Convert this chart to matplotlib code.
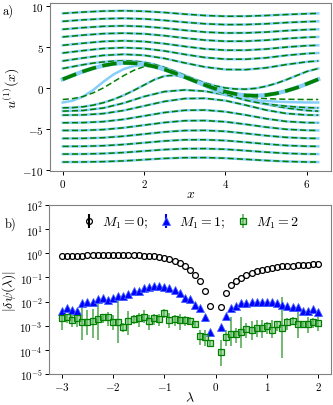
import numpy as np
import matplotlib
matplotlib.use("Agg")
import matplotlib.pyplot as plt
from matplotlib.ticker import FuncFormatter, LogLocator, NullLocator

plt.rcParams.update({
    "font.family": "serif",
    "font.serif": ["cmr10"],
    "mathtext.fontset": "cm",
    "axes.formatter.use_mathtext": True,
    "font.size": 8,
    "axes.unicode_minus": False,
})

# ---- panel a): u^(1)(x) curves -------------------------------------------
X = [0.0, 0.5, 1.0, 1.5, 2.0, 2.5, 3.0, 3.5, 4.0, 4.5, 5.0, 5.5, 6.0, 6.283]

upper_curves = [
    [9.04, 9.20, 9.32, 9.36, 9.30, 9.15, 8.95, 8.78, 8.69, 8.70, 8.78, 8.90, 9.00, 9.04],
    [8.07, 8.25, 8.39, 8.44, 8.37, 8.19, 7.96, 7.77, 7.67, 7.68, 7.77, 7.92, 8.03, 8.07],
    [7.10, 7.30, 7.46, 7.52, 7.44, 7.24, 6.98, 6.76, 6.65, 6.66, 6.76, 6.93, 7.06, 7.10],
    [6.17, 6.39, 6.57, 6.63, 6.55, 6.32, 6.03, 5.78, 5.64, 5.65, 5.77, 5.97, 6.12, 6.17],
    [5.15, 5.40, 5.62, 5.70, 5.61, 5.35, 5.01, 4.71, 4.55, 4.55, 4.69, 4.93, 5.10, 5.15],
    [4.21, 4.50, 4.76, 4.86, 4.76, 4.46, 4.04, 3.66, 3.46, 3.45, 3.62, 3.92, 4.14, 4.21],
    [3.24, 3.60, 3.92, 4.05, 3.93, 3.55, 3.00, 2.50, 2.20, 2.18, 2.40, 2.80, 3.13, 3.24],
]
lower_curves = [
    [-2.88, -2.80, -2.50, -1.90, -1.10, -0.50, -0.30, -0.45, -0.90, -1.50, -2.05, -2.50, -2.80, -2.88],
    [-3.37, -3.34, -3.18, -2.80, -2.25, -1.70, -1.35, -1.32, -1.60, -2.15, -2.75, -3.17, -3.35, -3.37],
    [-4.30, -4.28, -4.16, -3.88, -3.47, -3.05, -2.78, -2.75, -2.95, -3.35, -3.80, -4.14, -4.28, -4.30],
    [-5.24, -5.23, -5.13, -4.91, -4.59, -4.27, -4.05, -4.03, -4.18, -4.49, -4.83, -5.10, -5.22, -5.24],
    [-6.21, -6.20, -6.12, -5.94, -5.68, -5.42, -5.25, -5.23, -5.35, -5.60, -5.87, -6.08, -6.19, -6.21],
    [-7.18, -7.17, -7.10, -6.95, -6.74, -6.52, -6.38, -6.37, -6.47, -6.67, -6.89, -7.07, -7.16, -7.18],
    [-8.12, -8.11, -8.05, -7.93, -7.75, -7.57, -7.46, -7.45, -7.53, -7.70, -7.88, -8.03, -8.11, -8.12],
    [-9.09, -9.08, -9.04, -8.95, -8.80, -8.65, -8.56, -8.55, -8.62, -8.76, -8.90, -9.02, -9.08, -9.09],
]

# curves close to the thick periodic orbit, sampled more finely
X_fine = [0.0, 0.25, 0.5, 0.75, 1.0, 1.25, 1.5, 1.75, 2.0, 2.25, 2.5, 2.75, 3.0,
          3.25, 3.5, 3.75, 4.0, 4.25, 4.5, 4.75, 5.0, 5.25, 5.5, 5.75, 6.0, 6.283]
thick = [1.00, 1.49, 1.96, 2.36, 2.68, 2.90, 3.00, 2.97, 2.82, 2.56, 2.20, 1.76, 1.28,
         0.78, 0.30, -0.14, -0.51, -0.79, -0.96, -1.00, -0.92, -0.72, -0.41, -0.03, 0.44, 1.00]
near_above = [2.32, 2.55, 2.78, 2.98, 3.12, 3.22, 3.26, 3.22, 3.08, 2.82, 2.45, 2.00, 1.50,
              1.00, 0.55, 0.20, -0.05, -0.18, -0.20, -0.10, 0.15, 0.50, 0.95, 1.45, 1.95, 2.32]
near_below = [-2.48, -2.45, -2.35, -2.15, -1.85, -1.45, -0.95, -0.35, 0.30, 0.95, 1.40, 1.50, 1.25,
              0.80, 0.25, -0.30, -0.80, -1.20, -1.55, -1.80, -2.00, -2.15, -2.28, -2.38, -2.45, -2.48]
sep_exact = [-1.83, -1.60, -1.10, -0.30, 0.70, 1.60, 2.25, 2.62, 2.75, 2.55, 2.18, 1.74, 1.26,
             0.76, 0.15, -0.45, -0.90, -1.20, -1.40, -1.55, -1.65, -1.72, -1.77, -1.80, -1.82, -1.83]
sep_approx = [-1.46, -1.35, -1.10, -0.65, -0.05, 0.70, 1.45, 2.10, 2.55, 2.60, 2.30, 1.85, 1.35,
              0.85, 0.35, -0.10, -0.50, -0.85, -1.10, -1.25, -1.35, -1.40, -1.43, -1.45, -1.46, -1.46]

# ---- panel b): |delta psi(lambda)| ---------------------------------------
lam = [-3.0, -2.9, -2.8, -2.7, -2.6, -2.5, -2.4, -2.3, -2.2, -2.1,
       -2.0, -1.9, -1.8, -1.7, -1.6, -1.5, -1.4, -1.3, -1.2, -1.1,
       -1.0, -0.9, -0.8, -0.7, -0.6, -0.5, -0.4, -0.3, -0.2, -0.1,
       0.1, 0.2, 0.3, 0.4, 0.5, 0.6, 0.7, 0.8, 0.9, 1.0,
       1.1, 1.2, 1.3, 1.4, 1.5, 1.6, 1.7, 1.8, 1.9, 2.0]

m0 = [0.76, 0.77, 0.78, 0.79, 0.80, 0.81, 0.82, 0.83, 0.83, 0.84,
      0.84, 0.84, 0.84, 0.84, 0.83, 0.82, 0.80, 0.78, 0.75, 0.71,
      0.65, 0.56, 0.47, 0.38, 0.29, 0.20, 0.123, 0.070, 0.028, 6.8e-3,
      5.8e-3, 0.023, 0.048, 0.072, 0.099, 0.124, 0.149, 0.18, 0.205, 0.23,
      0.255, 0.27, 0.29, 0.30, 0.31, 0.32, 0.33, 0.34, 0.35, 0.36]

m1 = [4.1e-3, 5.6e-3, 4.6e-3, 4.1e-3, 8.5e-3, 0.010, 9.2e-3, 0.0123, 0.0135, 0.0115,
      0.0135, 0.017, 0.017, 0.020, 0.027, 0.028, 0.035, 0.041, 0.045, 0.045,
      0.041, 0.037, 0.030, 0.023, 0.0135, 0.0126, 7.2e-3, 5.3e-3, 2.2e-3, 5.4e-4,
      8.7e-4, 2.5e-3, 5.3e-3, 6.8e-3, 8.9e-3, 8.9e-3, 9.9e-3, 9.3e-3, 9.3e-3, 9.9e-3,
      9.9e-3, 8.9e-3, 7.2e-3, 6.5e-3, 6.1e-3, 5.8e-3, 4.2e-3, 4.2e-3, 4.9e-3, 3.6e-3]

m2 = [2.0e-3, 2.2e-3, 1.7e-3, 2.1e-3, 1.5e-3, 1.5e-3, 1.6e-3, 1.9e-3, 2.3e-3, 2.2e-3,
      1.5e-3, 1.5e-3, 8.5e-4, 1.6e-3, 1.9e-3, 2.1e-3, 2.3e-3, 1.6e-3, 2.0e-3, 1.9e-3,
      3.4e-3, 1.8e-3, 1.9e-3, 1.7e-3, 1.8e-3, 1.6e-3, 1.2e-3, 3.8e-4, 3.6e-4, 2.0e-4,
      8.5e-5, 3.4e-4, 4.6e-4, 4.4e-4, 5.5e-4, 7.5e-4, 7.0e-4, 8.0e-4, 8.0e-4, 1.0e-3,
      7.0e-4, 1.2e-3, 8.0e-4, 1.4e-3, 1.6e-3, 1.2e-3, 1.2e-3, 1.2e-3, 1.4e-3, 1.3e-3]
m2_lo = [6.5e-4, 1.3e-3, 8.5e-4, 9.0e-4, 2.5e-4, 4.0e-4, 3.0e-4, 2.5e-4, 1.3e-3, 1.0e-3,
         7.0e-4, 2.0e-4, 5.5e-4, 4.0e-4, 1.2e-3, 9.0e-4, 1.3e-3, 7.0e-4, 1.1e-3, 1.0e-3,
         2.0e-3, 8.0e-4, 1.0e-3, 7.0e-4, 1.0e-3, 1.1e-3, 9.0e-4, 1.6e-4, 1.5e-4, 1.5e-4,
         2.2e-5, 1.5e-4, 1.5e-4, 1.9e-4, 1.2e-4, 3.0e-4, 2.5e-4, 3.5e-4, 3.0e-4, 4.5e-4,
         3.0e-4, 6.0e-4, 4.5e-5, 7.0e-4, 1.2e-3, 3.0e-4, 8.0e-4, 5.0e-4, 8.0e-4, 6.0e-4]
m2_hi = [3.3e-3, 3.0e-3, 2.7e-3, 3.2e-3, 1.0e-2, 4.5e-3, 5.0e-3, 1.1e-2, 3.2e-3, 3.6e-3,
         2.8e-3, 1.3e-2, 1.3e-3, 4.0e-3, 2.7e-3, 3.3e-3, 4.5e-3, 2.9e-3, 3.0e-3, 3.2e-3,
         4.8e-3, 3.3e-3, 2.9e-3, 3.0e-3, 2.6e-3, 2.3e-3, 1.5e-3, 7.0e-4, 6.5e-4, 2.6e-4,
         2.6e-4, 6.5e-4, 2.3e-3, 8.0e-4, 2.3e-3, 1.3e-3, 1.6e-3, 1.7e-3, 1.8e-3, 1.4e-3,
         1.8e-3, 1.6e-3, 1.6e-2, 2.0e-3, 2.2e-3, 6.0e-3, 1.6e-3, 2.3e-3, 2.0e-3, 2.5e-3]

# ---------------------------------------------------------------------------
fig = plt.figure(figsize=(3.33, 4.06), dpi=100)
ax1 = fig.add_axes([0.150, 0.576, 0.844, 0.414])
ax2 = fig.add_axes([0.147, 0.076, 0.847, 0.417])

blue = "#87cefa"
green = "green"
dash = (0, (4, 2))

for c in upper_curves + lower_curves:
    ax1.plot(X, c, color=blue, lw=1.8)
    ax1.plot(X, c, color=green, lw=1.1, ls=dash)
for c in (near_above, near_below, sep_exact):
    ax1.plot(X_fine, c, color=blue, lw=1.8)
for c in (near_above, near_below, sep_approx):
    ax1.plot(X_fine, c, color=green, lw=1.1, ls=dash)
ax1.plot(X_fine, thick, color=blue, lw=3.0)
ax1.plot(X_fine, thick, color=green, lw=2.6, ls=(0, (4, 1.8)))

ax1.set_ylim(-10.2, 10.3)
ax1.set_xticks([0, 2, 4, 6])
ax1.set_yticks([-10, -5, 0, 5, 10])
fmt = FuncFormatter(lambda v, p: "$%g$" % v)
ax1.xaxis.set_major_formatter(fmt)
ax1.yaxis.set_major_formatter(fmt)
ax1.set_xlabel("$x$", fontsize=10, labelpad=-1)
ax1.set_ylabel("$u^{(1)}(x)$", fontsize=10, labelpad=1)

zeros = np.zeros(len(lam))
ax2.errorbar(lam, m0, yerr=zeros, fmt="o", color="k", mfc="none", ms=4.2, mew=0.9,
             label="$M_1=0$;")
ax2.errorbar(lam, m1, yerr=zeros, fmt="^", color="b", mec="#4060ff", ms=5.4, mew=0.6,
             label="$M_1=1$;")
m2_arr = np.array(m2)
yerr = [m2_arr - np.array(m2_lo), np.array(m2_hi) - m2_arr]
ax2.errorbar(lam, m2, yerr=yerr, fmt="s", color=green, mfc=(0.4, 0.75, 0.4, 0.5),
             mec=green, ecolor=(0.0, 0.5, 0.0, 0.7), ms=4.6, mew=0.9, elinewidth=1.1,
             label="$M_1=2$")
ax2.set_yscale("log")
ax2.set_ylim(1e-5, 1e2)
ax2.yaxis.set_major_locator(LogLocator(base=10, numticks=10))
ax2.yaxis.set_minor_locator(NullLocator())
ax2.set_xticks([-3, -2, -1, 0, 1, 2])
ax2.xaxis.set_major_formatter(fmt)
ax2.set_xlabel(r"$\lambda$", fontsize=10, labelpad=-1)
ax2.set_ylabel(r"$|\delta\psi(\lambda)|$", fontsize=10, labelpad=1)
ax2.legend(loc="upper center", ncol=3, frameon=False, fontsize=10,
           handletextpad=0.3, columnspacing=0.7, borderaxespad=0.3, handlelength=1.2)

for ax in (ax1, ax2):
    for s in ax.spines.values():
        s.set_color("#808080")
    ax.tick_params(length=3, width=0.7, pad=1.5, labelsize=8)

fig.text(0.008, 0.965, "a)", fontsize=9)
fig.text(0.015, 0.44, "b)", fontsize=9)

fig.savefig("out.png", dpi=100)
